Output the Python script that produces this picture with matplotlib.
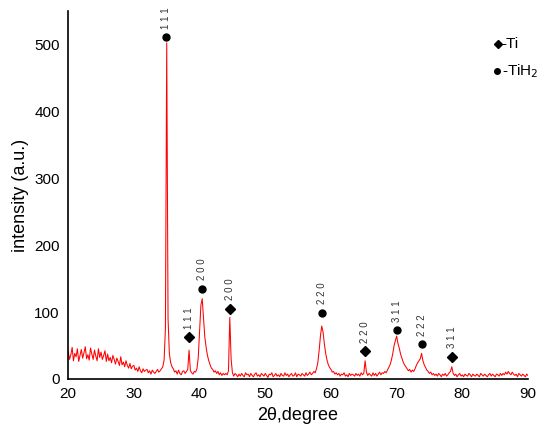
import numpy as np
import matplotlib.pyplot as plt

plt.rcParams['font.family'] = ['Liberation Sans', 'DejaVu Sans']

# 2theta grid: 20.0 .. 90.0 deg, 0.2 deg step
two_theta = np.linspace(20, 90, 351)
intensity = [
    41, 29, 36, 47, 27, 38, 33, 45, 26, 35,
    44, 31, 39, 48, 30, 36, 28, 46, 37, 29,
    43, 34, 27, 45, 32, 40, 29, 35, 42, 26,
    37, 27, 32, 24, 35, 29, 22, 31, 26, 20,
    33, 21, 25, 18, 27, 20, 16, 23, 15, 19,
    20, 13, 16, 11, 18, 12, 9, 15, 11, 13,
    14, 9, 12, 7, 13, 10, 8, 11, 14, 10,
    12, 15, 18, 28, 75, 503, 90, 38, 24, 18,
    15, 10, 12, 7, 13, 8, 6, 11, 12, 8,
    11, 14, 43, 12, 9, 7, 11, 10, 15, 32,
    70, 110, 120, 92, 62, 47, 35, 27, 21, 16,
    14, 10, 12, 8, 11, 6, 9, 5, 8, 6,
    8, 6, 12, 92, 30, 9, 4, 8, 6, 3,
    7, 4, 8, 5, 3, 9, 6, 7, 3, 8,
    5, 3, 7, 9, 4, 6, 3, 8, 6, 4,
    8, 5, 2, 7, 6, 9, 3, 5, 8, 4,
    6, 3, 8, 5, 4, 9, 5, 7, 3, 6,
    8, 4, 5, 9, 3, 7, 6, 4, 8, 6,
    4, 9, 5, 7, 10, 6, 8, 11, 9, 15,
    24, 42, 64, 79, 70, 52, 38, 28, 21, 17,
    14, 10, 11, 7, 9, 6, 8, 4, 7, 6,
    9, 4, 6, 3, 8, 5, 7, 6, 4, 8,
    5, 7, 4, 9, 6, 8, 27, 10, 5, 8,
    6, 4, 9, 5, 8, 4, 7, 10, 6, 9,
    8, 11, 9, 13, 17, 21, 28, 37, 49, 57,
    64, 53, 46, 37, 31, 25, 21, 18, 15, 12,
    14, 10, 13, 11, 15, 20, 24, 27, 30, 38,
    27, 21, 17, 13, 11, 8, 10, 6, 8, 5,
    7, 4, 8, 6, 3, 7, 5, 8, 4, 6,
    9, 11, 18, 8, 5, 7, 3, 6, 8, 4,
    6, 3, 7, 5, 4, 8, 6, 3, 7, 5,
    4, 7, 5, 3, 8, 6, 4, 7, 5, 3,
    6, 8, 4, 7, 5, 3, 7, 6, 4, 8,
    5, 8, 6, 10, 7, 11, 8, 6, 10, 7,
    5, 7, 3, 8, 6, 4, 7, 5, 3, 7,
    5,
]

# peak markers
peak_pos = [34.95, 38.45, 40.3, 44.7, 58.7, 65.2, 70.0, 73.9, 78.5]
peak_mark = [512, 62, 135, 105, 99, 41, 73, 52, 33]
peak_phase = ['TiH2', 'Ti', 'TiH2', 'Ti', 'TiH2', 'Ti', 'TiH2', 'TiH2', 'Ti']
peak_hkl = ['111', '111', '200', '200', '220', '220', '311', '222', '311']

fig, ax = plt.subplots(figsize=(5.5, 4.42), dpi=100)
fig.subplots_adjust(left=0.124, right=0.96, bottom=0.143, top=0.974)

ax.plot(two_theta, intensity, color='#ff0000', lw=0.75)

for x, y, ph, hkl in zip(peak_pos, peak_mark, peak_phase, peak_hkl):
    if ph == 'Ti':
        ax.plot(x, y, marker='D', ms=5.5, color='black', ls='none')
    else:
        ax.plot(x, y, marker='o', ms=5, color='black', ls='none')
    ax.annotate(' '.join(hkl), (x, y), xytext=(0, 6), textcoords='offset points',
                rotation=90, ha='center', va='bottom', fontsize=7, color='#333333')

# legend drawn by hand
ax.plot(85.4, 501, marker='D', ms=4.5, color='black', ls='none')
ax.text(86.0, 501, '-Ti', fontsize=11, va='center', ha='left')
ax.plot(85.3, 461, marker='o', ms=4, color='black', ls='none')
ax.text(86.0, 461, '-TiH$_2$', fontsize=11, va='center', ha='left')

ax.set_xlim(20, 90)
ax.set_ylim(0, 550)
ax.set_xticks(range(20, 91, 10))
ax.set_yticks(range(0, 501, 100))
ax.tick_params(length=0, labelsize=11, pad=6)
ax.spines['top'].set_visible(False)
ax.spines['right'].set_visible(False)
ax.spines['left'].set_linewidth(1.2)
ax.spines['bottom'].set_linewidth(1.2)
ax.set_xlabel('2θ,degree', fontsize=13)
ax.set_ylabel('intensity (a.u.)', fontsize=13)

fig.savefig('out.png', dpi=100)
